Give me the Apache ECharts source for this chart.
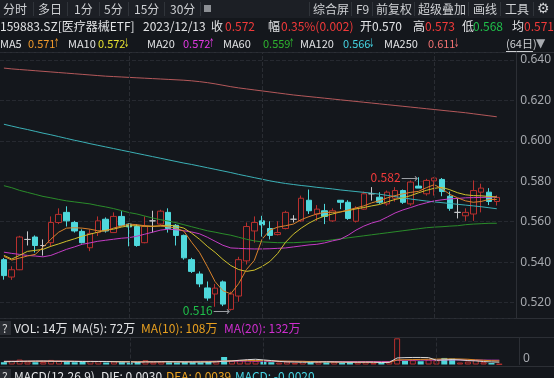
<!DOCTYPE html>
<html>
<head>
<meta charset="utf-8">
<script src="https://cdn.jsdelivr.net/npm/echarts@6/dist/echarts.min.js"></script>
<style>
html, body { margin: 0; padding: 0; background: #14171c; }
#kline { width: 554px; height: 378px; }
</style>
</head>
<body>
<div id="kline"></div>
<script>
// trading days shown (64日)
const days = [
  '2023-09-07', '2023-09-08', '2023-09-11', '2023-09-12', '2023-09-13', '2023-09-14', '2023-09-15', '2023-09-18',
  '2023-09-19', '2023-09-20', '2023-09-21', '2023-09-22', '2023-09-25', '2023-09-26', '2023-09-27', '2023-09-28',
  '2023-10-09', '2023-10-10', '2023-10-11', '2023-10-12', '2023-10-13', '2023-10-16', '2023-10-17', '2023-10-18',
  '2023-10-19', '2023-10-20', '2023-10-23', '2023-10-24', '2023-10-25', '2023-10-26', '2023-10-27', '2023-10-30',
  '2023-10-31', '2023-11-01', '2023-11-02', '2023-11-03', '2023-11-06', '2023-11-07', '2023-11-08', '2023-11-09',
  '2023-11-10', '2023-11-13', '2023-11-14', '2023-11-15', '2023-11-16', '2023-11-17', '2023-11-20', '2023-11-21',
  '2023-11-22', '2023-11-23', '2023-11-24', '2023-11-27', '2023-11-28', '2023-11-29', '2023-11-30', '2023-12-01',
  '2023-12-04', '2023-12-05', '2023-12-06', '2023-12-07', '2023-12-08', '2023-12-11', '2023-12-12', '2023-12-13'
]
const monthStarts = ['2023-10-09', '2023-11-01', '2023-12-01']

// [open, close, low, high]
const candles = [
  [0.5412, 0.5333, 0.5313, 0.5420], [0.5326, 0.5362, 0.5312, 0.5379], [0.5362, 0.5524, 0.5360, 0.5530], [0.5512, 0.5512, 0.5482, 0.5552],
  [0.5524, 0.5482, 0.5447, 0.5532], [0.5482, 0.5482, 0.5432, 0.5512], [0.5496, 0.5596, 0.5476, 0.5626], [0.5596, 0.5636, 0.5588, 0.5666],
  [0.5646, 0.5604, 0.5576, 0.5676], [0.5596, 0.5554, 0.5546, 0.5604], [0.5552, 0.5496, 0.5492, 0.5562], [0.5471, 0.5542, 0.5454, 0.5562],
  [0.5546, 0.5604, 0.5529, 0.5626], [0.5612, 0.5554, 0.5546, 0.5621], [0.5546, 0.5626, 0.5546, 0.5646], [0.5626, 0.5582, 0.5576, 0.5652],
  [0.5588, 0.5574, 0.5478, 0.5592], [0.5576, 0.5482, 0.5476, 0.5588], [0.5496, 0.5576, 0.5493, 0.5626], [0.5604, 0.5604, 0.5546, 0.5654],
  [0.5588, 0.5652, 0.5582, 0.5659], [0.5646, 0.5566, 0.5546, 0.5666], [0.5582, 0.5532, 0.5482, 0.5588], [0.5532, 0.5421, 0.5412, 0.5536],
  [0.5412, 0.5354, 0.5346, 0.5421], [0.5341, 0.5292, 0.5276, 0.5354], [0.5272, 0.5222, 0.5209, 0.5304], [0.5242, 0.5271, 0.5179, 0.5292],
  [0.5302, 0.5192, 0.5182, 0.5309], [0.5166, 0.5242, 0.5160, 0.5254], [0.5232, 0.5412, 0.5204, 0.5426], [0.5406, 0.5576, 0.5388, 0.5596],
  [0.5554, 0.5596, 0.5496, 0.5626], [0.5604, 0.5584, 0.5526, 0.5629], [0.5566, 0.5532, 0.5512, 0.5602], [0.5536, 0.5546, 0.5532, 0.5602],
  [0.5566, 0.5646, 0.5562, 0.5654], [0.5612, 0.5612, 0.5596, 0.5632], [0.5604, 0.5716, 0.5599, 0.5729], [0.5706, 0.5654, 0.5638, 0.5759],
  [0.5638, 0.5662, 0.5604, 0.5682], [0.5654, 0.5626, 0.5588, 0.5688], [0.5604, 0.5654, 0.5599, 0.5666], [0.5706, 0.5696, 0.5662, 0.5706],
  [0.5696, 0.5616, 0.5609, 0.5706], [0.5602, 0.5666, 0.5596, 0.5676], [0.5662, 0.5738, 0.5659, 0.5749], [0.5738, 0.5738, 0.5704, 0.5771],
  [0.5721, 0.5696, 0.5688, 0.5746], [0.5688, 0.5746, 0.5679, 0.5754], [0.5716, 0.5754, 0.5699, 0.5771], [0.5754, 0.5696, 0.5688, 0.5759],
  [0.5688, 0.5796, 0.5679, 0.5804], [0.5776, 0.5766, 0.5766, 0.5820], [0.5738, 0.5804, 0.5729, 0.5812], [0.5802, 0.5816, 0.5729, 0.5820],
  [0.5809, 0.5749, 0.5726, 0.5816], [0.5726, 0.5666, 0.5654, 0.5749], [0.5646, 0.5646, 0.5616, 0.5716], [0.5629, 0.5646, 0.5604, 0.5666],
  [0.5638, 0.5754, 0.5604, 0.5804], [0.5746, 0.5766, 0.5646, 0.5788], [0.5746, 0.5700, 0.5682, 0.5766], [0.5700, 0.5720, 0.5680, 0.5730]
]

// moving averages
const ma5 = [0.5428, 0.5410, 0.5420, 0.5430, 0.5438, 0.5473, 0.5513, 0.5548, 0.5568, 0.5570, 0.5568, 0.5563, 0.5555, 0.5554, 0.5568, 0.5578,
  0.5588, 0.5585, 0.5580, 0.5578, 0.5578, 0.5575, 0.5568, 0.5553, 0.5498, 0.5448, 0.5378, 0.5303, 0.5258, 0.5243, 0.5293, 0.5363,
  0.5408, 0.5513, 0.5558, 0.5573, 0.5580, 0.5588, 0.5610, 0.5625, 0.5638, 0.5646, 0.5646, 0.5648, 0.5658, 0.5668, 0.5678, 0.5693,
  0.5704, 0.5718, 0.5729, 0.5738, 0.5745, 0.5750, 0.5768, 0.5783, 0.5763, 0.5735, 0.5718, 0.5703, 0.5696, 0.5700, 0.5710, 0.5710]
const ma10 = [0.5433, 0.5415, 0.5433, 0.5453, 0.5458, 0.5463, 0.5478, 0.5490, 0.5503, 0.5515, 0.5528, 0.5538, 0.5548, 0.5558, 0.5563, 0.5573,
  0.5580, 0.5580, 0.5578, 0.5576, 0.5580, 0.5583, 0.5578, 0.5568, 0.5543, 0.5513, 0.5478, 0.5448, 0.5413, 0.5383, 0.5363, 0.5354,
  0.5360, 0.5378, 0.5403, 0.5443, 0.5498, 0.5538, 0.5568, 0.5593, 0.5613, 0.5628, 0.5638, 0.5648, 0.5655, 0.5663, 0.5670, 0.5678,
  0.5685, 0.5698, 0.5710, 0.5718, 0.5729, 0.5743, 0.5755, 0.5765, 0.5770, 0.5758, 0.5743, 0.5733, 0.5729, 0.5728, 0.5725, 0.5722]
const ma20 = [0.5449, 0.5443, 0.5438, 0.5433, 0.5430, 0.5426, 0.5433, 0.5448, 0.5463, 0.5475, 0.5488, 0.5495, 0.5503, 0.5508, 0.5513, 0.5518,
  0.5521, 0.5528, 0.5538, 0.5548, 0.5558, 0.5563, 0.5560, 0.5555, 0.5549, 0.5540, 0.5523, 0.5503, 0.5483, 0.5470, 0.5468, 0.5466,
  0.5465, 0.5465, 0.5466, 0.5468, 0.5470, 0.5475, 0.5480, 0.5485, 0.5488, 0.5495, 0.5505, 0.5513, 0.5533, 0.5558, 0.5578, 0.5593,
  0.5604, 0.5623, 0.5643, 0.5658, 0.5670, 0.5683, 0.5693, 0.5703, 0.5708, 0.5713, 0.5715, 0.5718, 0.5719, 0.5720, 0.5721, 0.5722]
const ma60 = [0.5778, 0.5768, 0.5755, 0.5745, 0.5735, 0.5725, 0.5718, 0.5710, 0.5703, 0.5698, 0.5693, 0.5688, 0.5680, 0.5673, 0.5665, 0.5655,
  0.5645, 0.5638, 0.5628, 0.5618, 0.5610, 0.5603, 0.5595, 0.5585, 0.5575, 0.5565, 0.5555, 0.5548, 0.5540, 0.5533, 0.5523, 0.5513,
  0.5505, 0.5500, 0.5498, 0.5496, 0.5496, 0.5496, 0.5498, 0.5500, 0.5503, 0.5505, 0.5510, 0.5515, 0.5520, 0.5525, 0.5530, 0.5535,
  0.5540, 0.5545, 0.5550, 0.5555, 0.5560, 0.5565, 0.5570, 0.5573, 0.5575, 0.5578, 0.5580, 0.5585, 0.5588, 0.5590, 0.5592, 0.5592]
const ma120 = [0.6082, 0.6073, 0.6064, 0.6056, 0.6047, 0.6038, 0.6030, 0.6021, 0.6012, 0.6003, 0.5995, 0.5986, 0.5978, 0.5970, 0.5962, 0.5954,
  0.5946, 0.5938, 0.5930, 0.5922, 0.5914, 0.5906, 0.5898, 0.5890, 0.5883, 0.5875, 0.5867, 0.5859, 0.5851, 0.5843, 0.5834, 0.5826,
  0.5818, 0.5810, 0.5802, 0.5795, 0.5789, 0.5784, 0.5779, 0.5775, 0.5770, 0.5766, 0.5762, 0.5757, 0.5753, 0.5749, 0.5745, 0.5741,
  0.5736, 0.5730, 0.5724, 0.5718, 0.5712, 0.5707, 0.5702, 0.5698, 0.5694, 0.5690, 0.5686, 0.5682, 0.5678, 0.5674, 0.5669, 0.5664]
const ma250 = [0.6360, 0.6356, 0.6353, 0.6350, 0.6347, 0.6344, 0.6341, 0.6338, 0.6335, 0.6332, 0.6329, 0.6326, 0.6323, 0.6320, 0.6318, 0.6316,
  0.6314, 0.6312, 0.6310, 0.6308, 0.6306, 0.6304, 0.6302, 0.6300, 0.6297, 0.6293, 0.6288, 0.6282, 0.6275, 0.6268, 0.6262, 0.6257,
  0.6252, 0.6247, 0.6242, 0.6237, 0.6232, 0.6227, 0.6223, 0.6219, 0.6215, 0.6211, 0.6207, 0.6203, 0.6199, 0.6195, 0.6191, 0.6187,
  0.6183, 0.6179, 0.6175, 0.6171, 0.6167, 0.6163, 0.6159, 0.6155, 0.6151, 0.6147, 0.6143, 0.6139, 0.6134, 0.6129, 0.6124, 0.6119]

// volume, 万
const volumes = [70, 110, 150, 90, 70, 80, 140, 120, 75, 70, 80, 110, 100, 60, 95, 70,
  55, 75, 130, 65, 90, 70, 65, 85, 70, 65, 80, 95, 230, 120, 140, 150,
  110, 80, 70, 60, 90, 50, 110, 70, 80, 65, 85, 50, 80, 65, 85, 50,
  60, 90, 800, 110, 130, 100, 150, 130, 200, 180, 60, 90, 140, 70, 45, 14]
const volMa5 = [85, 88, 95, 100, 104, 106, 100, 96, 98, 95, 90, 88, 92, 90, 85, 80,
  78, 72, 78, 80, 84, 86, 82, 78, 75, 76, 75, 80, 100, 108, 130, 148,
  160, 140, 120, 95, 80, 75, 70, 72, 75, 80, 78, 72, 70, 70, 72, 70,
  60, 65, 200, 210, 215, 215, 210, 130, 140, 150, 140, 120, 110, 90, 78, 72]
const volMa10 = [95, 96, 98, 100, 100, 102, 102, 100, 98, 97, 95, 94, 93, 92, 90, 88,
  86, 84, 84, 83, 82, 82, 80, 80, 82, 85, 88, 95, 105, 112, 118, 120,
  122, 118, 110, 106, 102, 98, 95, 90, 85, 80, 76, 74, 72, 72, 72, 70,
  68, 68, 140, 145, 150, 155, 160, 165, 170, 172, 168, 160, 140, 128, 116, 108]
const volMa20 = [98, 98, 99, 99, 100, 100, 100, 99, 98, 97, 96, 95, 94, 93, 92, 91,
  90, 89, 88, 88, 88, 89, 90, 92, 94, 96, 98, 100, 102, 103, 104, 104,
  103, 101, 99, 97, 96, 95, 94, 93, 92, 92, 91, 90, 90, 90, 91, 92,
  93, 92, 128, 130, 132, 134, 135, 136, 138, 139, 139, 138, 136, 134, 133, 132]

const UP = '#b8302e'
const DOWN = '#4fd8dc'
const BG = '#14171c'
const FONT = '12px "Noto Sans CJK SC"'
const FONT_S = '11px "Noto Sans CJK SC"'

function txt(x, y, text, fill, font) {
  return {
    type: 'text', x: x, y: y, silent: true,
    style: { text: text, fill: fill, font: font || FONT, verticalAlign: 'middle' }
  }
}
// narrow trend arrow after a MA value
function arrow(x, y, up, fill) {
  return {
    type: 'text', x: x, y: y, silent: true, scaleX: 0.5,
    style: { text: up ? '↑' : '↓', fill: fill, font: '12px "DejaVu Sans"', verticalAlign: 'middle' }
  }
}
function hline(y, x1, x2, color) {
  return { type: 'line', silent: true, shape: { x1: x1, y1: y, x2: x2, y2: y }, style: { stroke: color, lineWidth: 1 } }
}
function vline(x, y1, y2, color) {
  return { type: 'line', silent: true, shape: { x1: x, y1: y1, x2: x, y2: y2 }, style: { stroke: color, lineWidth: 1 } }
}

const graphics = [
  { type: 'rect', silent: true, shape: { x: 0, y: 0, width: 554, height: 18 }, style: { fill: '#1c1f25' } },
  txt(3, 9, '分时', '#cfd1d4'), txt(38, 9, '多日', '#cfd1d4'), txt(74, 9, '1分', '#cfd1d4'),
  txt(104, 9, '5分', '#cfd1d4'), txt(134, 9, '15分', '#cfd1d4'), txt(170, 9, '30分', '#cfd1d4'),
  { type: 'rect', silent: true, shape: { x: 204, y: 5, width: 7, height: 7 }, style: { fill: '#8c8f94' } },
  txt(313, 9, '综合屏', '#cfd1d4'), txt(356, 9, 'F9', '#cfd1d4'), txt(376, 9, '前复权', '#cfd1d4'),
  txt(418, 9, '超级叠加', '#cfd1d4'), txt(473, 9, '画线', '#cfd1d4'), txt(505, 9, '工具', '#cfd1d4'),
  txt(537, 9, '⚙', '#cfd1d4', '14px "DejaVu Sans"'),
  vline(33.5, 2, 16, '#30343a'), vline(67.5, 2, 16, '#30343a'), vline(99.5, 2, 16, '#30343a'),
  vline(128.5, 2, 16, '#30343a'), vline(164.5, 2, 16, '#30343a'), vline(200.5, 2, 16, '#30343a'),
  vline(309.5, 2, 16, '#30343a'), vline(351.5, 2, 16, '#30343a'), vline(372.5, 2, 16, '#30343a'),
  vline(414.5, 2, 16, '#30343a'), vline(468.5, 2, 16, '#30343a'), vline(500.5, 2, 16, '#30343a'),
  vline(533.5, 2, 16, '#30343a'),

  txt(0, 26, '159883.SZ[医疗器械ETF]', '#e2e3e5'), txt(143, 26, '2023/12/13', '#e2e3e5'),
  txt(211, 26, '收', '#e2e3e5'), txt(225, 26, '0.572', '#f23a3a'),
  txt(268, 26, '幅', '#e2e3e5'), txt(281, 26, '0.35%(0.002)', '#f23a3a'),
  txt(360, 26, '开', '#e2e3e5'), txt(372, 26, '0.570', '#e2e3e5'),
  txt(413, 26, '高', '#e2e3e5'), txt(425, 26, '0.573', '#f23a3a'),
  txt(462, 26, '低', '#e2e3e5'), txt(473, 26, '0.568', '#1fbf4a'),
  txt(512, 26, '均', '#e2e3e5'), txt(524, 26, '0.571', '#f23a3a'),

  txt(0, 44, 'MA5', '#e2e3e5', FONT_S), txt(28, 44, '0.571', '#f09a2c', FONT_S), arrow(54, 44, true, '#f09a2c'),
  txt(68, 44, 'MA10', '#e2e3e5', FONT_S), txt(98, 44, '0.572', '#e6e030', FONT_S), arrow(124, 44, false, '#e6e030'),
  txt(147, 44, 'MA20', '#e2e3e5', FONT_S), txt(183, 44, '0.572', '#e23ae2', FONT_S), arrow(209, 44, true, '#e23ae2'),
  txt(223, 44, 'MA60', '#e2e3e5', FONT_S), txt(263, 44, '0.559', '#2fb52f', FONT_S), arrow(289, 44, true, '#2fb52f'),
  txt(300, 44, 'MA120', '#e2e3e5', FONT_S), txt(343, 44, '0.566', '#45d3e2', FONT_S), arrow(369, 44, false, '#45d3e2'),
  txt(384, 44, 'MA250', '#e2e3e5', FONT_S), txt(428, 44, '0.611', '#f07272', FONT_S), arrow(454, 44, false, '#f07272'),
  txt(506, 44, '(64日)', '#cfd1d4', FONT_S), hline(51.5, 506, 533, '#cfd1d4'),
  txt(536, 44, '▼', '#a8abb0', '12px "DejaVu Sans"'),

  hline(52.5, 0, 554, '#2c2f35'),
  hline(318.5, 0, 554, '#2c2f35'),
  hline(337.5, 0, 554, '#2c2f35'),
  hline(366.5, 0, 554, '#2c2f35'),
  { type: 'rect', silent: true, shape: { x: 0, y: 321, width: 11, height: 14 }, style: { fill: '#2a2d33' } },
  txt(2, 328, '?', '#d8d8d8'),
  txt(14, 328, 'VOL: 14万', '#e2e3e5'), txt(72, 328, 'MA(5): 72万', '#e2e3e5'),
  txt(141, 328, 'MA(10): 108万', '#e8a020'), txt(224, 328, 'MA(20): 132万', '#d02ed0'),
  { type: 'rect', silent: true, shape: { x: 0, y: 369, width: 11, height: 14 }, style: { fill: '#2a2d33' } },
  txt(2, 376, '?', '#d8d8d8'),
  txt(14, 376, 'MACD(12,26,9)', '#e2e3e5'), txt(101, 376, 'DIF: 0.0030', '#e2e3e5'),
  txt(166, 376, 'DEA: 0.0039', '#e8a020'), txt(235, 376, 'MACD: -0.0020', '#45d3e2')
]

const dividerLine = {
  silent: true,
  symbol: ['none', 'none'],
  label: { show: false },
  lineStyle: { color: '#2a2d33', type: 'dashed', width: 1 },
  data: monthStarts.map((d) => ({ xAxis: d }))
}

function maLine(name, data, color) {
  return {
    name: name, type: 'line', data: data, xAxisIndex: 0, yAxisIndex: 0,
    showSymbol: false, smooth: false, silent: true,
    lineStyle: { color: color, width: 1 }
  }
}
function volLine(name, data, color) {
  return {
    name: name, type: 'line', data: data, xAxisIndex: 1, yAxisIndex: 1,
    showSymbol: false, silent: true,
    lineStyle: { color: color, width: 1 }
  }
}

const chart = echarts.init(document.getElementById('kline'))
chart.setOption({
  animation: false,
  backgroundColor: BG,
  textStyle: { fontFamily: '"Noto Sans CJK SC"' },
  grid: [
    { left: -3, right: 35, top: 52, height: 266 },
    { left: -3, right: 35, top: 338, height: 26.5 }
  ],
  xAxis: [
    { type: 'category', gridIndex: 0, data: days, max: 65, boundaryGap: true,
      axisLine: { show: false }, axisTick: { show: false }, axisLabel: { show: false }, splitLine: { show: false } },
    { type: 'category', gridIndex: 1, data: days, max: 65, boundaryGap: true,
      axisLine: { show: false }, axisTick: { show: false }, axisLabel: { show: false }, splitLine: { show: false } }
  ],
  yAxis: [
    {
      type: 'value', gridIndex: 0, position: 'right',
      min: 0.51233, max: 0.64396, splitNumber: 6, minInterval: 0.02, maxInterval: 0.02,
      axisLine: { show: true, lineStyle: { color: '#2c2f35' } },
      axisTick: { show: false },
      axisLabel: {
        color: '#a6a9ae', fontSize: 12, margin: 4, fontFamily: '"Noto Sans"',
        formatter: (v) => (Math.abs(v * 50 - Math.round(v * 50)) < 1e-6 ? v.toFixed(3) : '')
      },
      splitLine: { show: true, lineStyle: { color: '#262930', type: 'dashed' } }
    },
    {
      type: 'value', gridIndex: 1, position: 'right',
      min: 0, max: 810, interval: 810,
      axisLine: { show: true, lineStyle: { color: '#2c2f35' } },
      axisTick: { show: false },
      axisLabel: {
        color: '#a6a9ae', fontSize: 12, margin: 4, verticalAlign: 'bottom', fontFamily: '"Noto Sans"',
        formatter: (v) => (v === 0 ? '0' : '')
      },
      splitLine: { show: false }
    }
  ],
  series: [
    {
      name: 'K', type: 'candlestick', data: candles, xAxisIndex: 0, yAxisIndex: 0,
      barWidth: 6, silent: true,
      itemStyle: {
        color: BG, color0: DOWN, borderColor: UP, borderColor0: DOWN,
        borderColorDoji: '#c8c9cc', borderWidth: 1
      },
      markLine: dividerLine,
      markPoint: {
        symbol: 'circle', symbolSize: 0, silent: true,
        data: [
          {
            coord: ['2023-11-29', 0.582],
            label: {
              show: true, position: 'left', distance: 1,
              formatter: '{v|0.582}{a|⟶}',
              rich: { v: { color: '#f23a3a', fontSize: 12 }, a: { color: '#9a9da2', fontSize: 12 } }
            }
          },
          {
            coord: ['2023-10-26', 0.516],
            label: {
              show: true, position: 'left', distance: 1,
              formatter: '{v|0.516}{a|⟶}',
              rich: { v: { color: '#1fbf4a', fontSize: 12 }, a: { color: '#9a9da2', fontSize: 12 } }
            }
          }
        ]
      }
    },
    maLine('MA250', ma250, '#b4585a'),
    maLine('MA120', ma120, '#3bb0b6'),
    maLine('MA60', ma60, '#2a8c2a'),
    maLine('MA20', ma20, '#c43cc4'),
    maLine('MA10', ma10, '#cfc02c'),
    maLine('MA5', ma5, '#d9822b'),
    {
      name: 'VOL', type: 'bar', xAxisIndex: 1, yAxisIndex: 1, barWidth: 6, silent: true,
      data: volumes.map((v, i) => {
        const up = candles[i][1] >= candles[i][0]
        return {
          value: v,
          itemStyle: up
            ? { color: BG, borderColor: UP, borderWidth: 1 }
            : { color: DOWN }
        }
      }),
      markLine: dividerLine
    },
    volLine('VMA20', volMa20, '#c43cc4'),
    volLine('VMA10', volMa10, '#d98a22'),
    volLine('VMA5', volMa5, '#d8d8d8')
  ],
  graphic: { elements: graphics }
})
</script>
</body>
</html>
